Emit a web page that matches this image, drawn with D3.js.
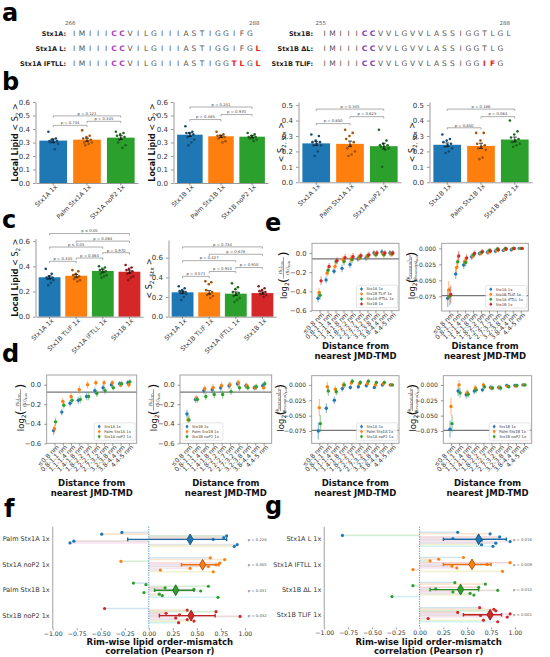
<!DOCTYPE html>
<html>
<head>
<meta charset="utf-8">
<script src="https://cdn.jsdelivr.net/npm/d3@7"></script>
<style>
  body { margin: 0; background: #fff; }
  svg { font-family: "DejaVu Sans", sans-serif; }
</style>
</head>
<body>
<svg id="fig" width="550" height="657"></svg>
<script>
// ---- data ----
const palette = ["#1f77b4", "#ff7f0e", "#2ca02c", "#d62728"];
const tab10 = ["#1f77b4","#ff7f0e","#2ca02c","#d62728","#9467bd","#8c564b","#e377c2","#7f7f7f","#bcbd22","#17becf"];

// a: sequences
const seqLeftNames = ["Stx1A:", "Stx1A L:", "Stx1A IFTLL:"];
const seqLeftSeqs = ["IMIIICCVILGIIIASTIGGIFG", "IMIIICCVILGIIIASTIGGIFGL", "IMIIICCVILGIIIASTIGGTLGL"];
const seqLeftRed = [[], [23], [20, 21, 23]];
const seqRightNames = ["Stx1B:", "Stx1B ΔL:", "Stx1B TLIF:"];
const seqRightSeqs = ["IMIIICCVVLGVVLASSIGGTLGL", "IMIIICCVVLGVVLASSIGGTLG", "IMIIICCVVLGVVLASSIGGIFG"];
const seqRightRed = [[], [], [20, 21]];
const seqLeftNums = ["266", "288"];
const seqRightNums = ["255", "288"];

// b
const bCatsA = ["Stx1A 1x", "Palm Stx1A 1x", "Stx1A noP2 1x"];
const bCatsB = ["Stx1B 1x", "Palm Stx1B 1x", "Stx1B noP2 1x"];
const b1Means = [0.314, 0.321, 0.336];
const b1Err = [0.012, 0.011, 0.014];
const b1Dots = [
  [0.38, 0.33, 0.32, 0.31, 0.31, 0.30, 0.30, 0.29, 0.25, 0.32],
  [0.39, 0.35, 0.34, 0.33, 0.32, 0.31, 0.30, 0.30, 0.29, 0.28],
  [0.38, 0.37, 0.36, 0.35, 0.34, 0.33, 0.30, 0.28, 0.26, 0.32]
];
const b1Brk = [[0, 1, 0.427, "p = 0.734"], [1, 2, 0.457, "p = 0.345"], [0, 2, 0.497, "p = 0.121"]];
const b2Means = [0.358, 0.346, 0.343];
const b2Err = [0.013, 0.008, 0.007];
const b2Dots = [
  [0.42, 0.38, 0.37, 0.37, 0.36, 0.35, 0.34, 0.32, 0.30, 0.28],
  [0.38, 0.36, 0.35, 0.35, 0.34, 0.34, 0.33, 0.31, 0.30],
  [0.37, 0.36, 0.35, 0.34, 0.34, 0.33, 0.33, 0.32, 0.31]
];
const b2Brk = [[0, 1, 0.47, "p = 0.385"], [1, 2, 0.507, "p = 0.970"], [0, 2, 0.563, "p = 0.241"]];
const b3Means = [0.252, 0.249, 0.234];
const b3Err = [0.013, 0.018, 0.019];
const b3Dots = [
  [0.31, 0.30, 0.27, 0.26, 0.26, 0.25, 0.24, 0.24, 0.20, 0.17],
  [0.34, 0.32, 0.30, 0.28, 0.26, 0.24, 0.22, 0.20, 0.18, 0.17],
  [0.34, 0.27, 0.25, 0.24, 0.24, 0.23, 0.23, 0.22, 0.21, 0.10]
];
const b3Brk = [[0, 1, 0.38, "p = 0.850"], [1, 2, 0.425, "p = 0.623"], [0, 2, 0.474, "p = 0.345"]];
const b4Means = [0.243, 0.236, 0.277];
const b4Err = [0.012, 0.017, 0.016];
const b4Dots = [
  [0.31, 0.28, 0.27, 0.26, 0.25, 0.24, 0.23, 0.22, 0.20, 0.19],
  [0.32, 0.32, 0.27, 0.25, 0.24, 0.23, 0.22, 0.21, 0.16, 0.15],
  [0.40, 0.33, 0.31, 0.29, 0.28, 0.27, 0.26, 0.25, 0.24, 0.23]
];
const b4Brk = [[0, 1, 0.353, "p = 0.850"], [1, 2, 0.425, "p = 0.064"], [0, 2, 0.474, "p = 0.186"]];

// c
const cCats = ["Stx1A 1x", "Stx1B TLIF 1x", "Stx1A IFTLL 1x", "Stx1B 1x"];
const c1Means = [0.313, 0.325, 0.363, 0.357];
const c1Err = [0.011, 0.010, 0.009, 0.012];
const c1Dots = [
  [0.38, 0.34, 0.32, 0.31, 0.31, 0.30, 0.30, 0.29, 0.27, 0.25],
  [0.37, 0.36, 0.34, 0.33, 0.32, 0.31, 0.30, 0.29, 0.28],
  [0.40, 0.39, 0.38, 0.37, 0.36, 0.35, 0.34, 0.33, 0.32, 0.31],
  [0.41, 0.39, 0.38, 0.37, 0.36, 0.35, 0.34, 0.32, 0.31, 0.29]
];
const c1Brk = [[0, 1, 0.44, "p = 0.345"], [1, 2, 0.466, "p = 0.064"], [2, 3, 0.508, "p = 0.970"],
               [0, 2, 0.553, "p ≤ 0.05"], [1, 3, 0.60, "p = 0.064"], [0, 3, 0.66, "p ≤ 0.05"]];
const c2Means = [0.248, 0.248, 0.234, 0.240];
const c2Err = [0.013, 0.017, 0.018, 0.011];
const c2Dots = [
  [0.31, 0.29, 0.27, 0.26, 0.25, 0.25, 0.24, 0.23, 0.20, 0.17],
  [0.36, 0.35, 0.33, 0.27, 0.25, 0.23, 0.22, 0.21, 0.19],
  [0.34, 0.30, 0.28, 0.25, 0.24, 0.23, 0.21, 0.19, 0.17, 0.15],
  [0.31, 0.29, 0.27, 0.26, 0.25, 0.24, 0.23, 0.22, 0.20]
];
const c2Brk = [[0, 1, 0.41, "p = 0.571"], [1, 2, 0.46, "p = 0.910"], [2, 3, 0.50, "p = 0.910"],
               [0, 2, 0.57, "p = 0.427"], [1, 3, 0.635, "p = 0.678"], [0, 3, 0.71, "p = 0.734"]];

// d, e: distance bins
const distCats = ["≤0.8 nm", "0.8-1.1 nm", "1.1-1.4 nm", "1.4-1.8 nm", "1.8-2.2 nm",
                  "2.2-2.7 nm", "2.7-3.2 nm", "3.2-3.8 nm", "3.8-4.4 nm", "4.4-5 nm"];
const errS2 = [0.045, 0.035, 0.035, 0.04, 0.04, 0.035, 0.035, 0.03, 0.03, 0.03];
const errTheta = [0.014, 0.008, 0.006, 0.005, 0.004, 0.004, 0.004, 0.003, 0.003, 0.001];

const eNames = ["Stx1A 1x", "Stx1B TLIF 1x", "Stx1A IFTLL 1x", "Stx1B 1x"];
const e1Series = [
  [-0.47, -0.28, -0.19, -0.16, -0.12, -0.06, -0.05, 0.0, 0.01, 0.0],
  [-0.41, -0.21, -0.14, -0.07, -0.06, -0.05, -0.04, -0.01, -0.01, -0.01],
  [-0.44, -0.18, -0.09, -0.09, -0.07, -0.04, -0.03, -0.02, -0.02, -0.01],
  [-0.29, -0.14, -0.08, -0.05, -0.04, -0.03, -0.02, 0.0, 0.0, 0.0]
];
const e2Series = [
  [-0.078, -0.040, -0.026, -0.013, -0.008, -0.006, -0.004, -0.003, -0.002, 0.0],
  [-0.065, -0.030, -0.020, -0.012, -0.008, -0.006, -0.003, -0.002, -0.001, 0.0],
  [-0.075, -0.021, -0.022, -0.010, -0.006, -0.003, -0.001, 0.0, 0.0, 0.0],
  [-0.072, -0.012, -0.015, -0.008, -0.005, -0.004, -0.002, -0.001, 0.0, 0.0]
];
const dNamesA = ["Stx1A 1x", "Palm Stx1A 1x", "Stx1A noP2 1x"];
const dNamesB = ["Stx1B 1x", "Palm Stx1B 1x", "Stx1B noP2 1x"];
const d1Series = [
  [-0.47, -0.28, -0.19, -0.16, -0.12, -0.06, -0.03, 0.0, 0.01, 0.02],
  [-0.45, -0.17, -0.12, -0.05, 0.0, 0.02, 0.02, 0.02, 0.0, 0.0],
  [-0.38, -0.21, -0.16, -0.15, -0.12, -0.09, -0.06, -0.03, 0.01, 0.03]
];
const d2Series = [
  [-0.30, -0.15, -0.06, -0.05, -0.03, -0.01, 0.01, -0.01, -0.03, -0.01],
  [-0.36, -0.14, -0.04, -0.03, -0.01, 0.0, 0.02, -0.01, -0.03, -0.03],
  [-0.36, -0.15, -0.12, -0.10, -0.10, -0.07, -0.03, -0.03, -0.02, 0.01]
];
const d3Series = [
  [-0.075, -0.038, -0.025, -0.006, -0.004, -0.003, -0.001, -0.004, 0.0, 0.0],
  [-0.037, -0.003, -0.007, 0.0, 0.003, 0.002, 0.002, 0.0, 0.002, 0.0],
  [-0.063, -0.010, -0.011, 0.0, 0.006, 0.004, 0.006, 0.004, 0.004, 0.0]
];
const d4Series = [
  [-0.072, -0.010, -0.016, -0.010, -0.008, -0.004, -0.004, -0.001, -0.001, 0.0],
  [-0.035, 0.0, -0.013, -0.005, 0.0, -0.005, -0.004, -0.002, -0.002, 0.0],
  [-0.063, -0.013, -0.015, -0.008, -0.003, -0.005, -0.005, -0.003, -0.001, 0.0]
];
const s2Ticks = [-0.6, -0.4, -0.2, 0.0];
const thetaTicks = [-0.075, -0.05, -0.025, 0.0];

// f, g: rim-wise correlations
const fCats = ["Palm Stx1A 1x", "Stx1A noP2 1x", "Palm Stx1B 1x", "Stx1B noP2 1x"];
const fVals = [
  [-0.28, -0.49, 0.81, 0.78, 0.67, -0.78, -0.82, 0.92, 0.89],
  [0.64, 0.79, -0.29, 0.74, 0.70, 0.62, 0.43, 0.12, 0.67],
  [-0.16, -0.03, 0.62, 0.17, 0.47, 0.54, -0.05, 0.11, 0.14, 0.72],
  [-0.46, 0.40, 0.70, 0.18, 0.32, 0.95, 0.28, 0.40, 0.47, 0.31]
];
const fMeans = [0.43, 0.56, 0.28, 0.44];
const fLo = [-0.22, 0.34, 0.06, 0.11];
const fHi = [0.81, 0.73, 0.47, 0.69];
const fP = ["p = 0.228", "p = 0.005", "p = 0.031", "p = 0.032"];
const gCats = ["Stx1A L 1x", "Stx1A IFTLL 1x", "Stx1B ΔL 1x", "Stx1B TLIF 1x"];
const gVals = [
  [0.40, 0.74, -0.81, 0.84, 0.35, 0.65, 0.95, 0.80, 0.65, 0.77],
  [0.46, 0.20, 0.11, 0.95, 0.71, 0.34, 0.39, -0.07, 0.87],
  [0.37, 0.69, -0.07, 0.62, 0.17, 0.82, 0.35, 0.53, 0.57, -0.29],
  [0.63, 0.78, 0.80, 0.40, 0.95, 0.64, 0.92, 0.09, 0.67, 0.82]
];
const gMeans = [0.62, 0.55, 0.43, 0.74];
const gLo = [0.25, 0.25, 0.11, 0.46];
const gHi = [0.91, 0.75, 0.62, 0.86];
const gP = ["p = 0.016", "p = 0.009", "p = 0.010", "p < 0.001"];
const corrTicks = [-1, -0.75, -0.5, -0.25, 0, 0.25, 0.5, 0.75, 1];

// ---- drawing ----
const svg = d3.select("#fig");
const spine = "#999";

function letter(t, x, y) {
  svg.append("text").attr("x", x).attr("y", y).attr("font-size", 24)
    .attr("font-weight", "bold").attr("fill", "#000").text(t);
}

function styleAxis(ax, fs) {
  ax.select(".domain").attr("stroke", spine).attr("stroke-width", 1);
  ax.selectAll(".tick line").attr("stroke", "#555").attr("stroke-width", 0.6);
  ax.selectAll(".tick text").attr("font-size", fs).attr("fill", "#333")
    .attr("font-family", "DejaVu Sans, sans-serif");
}

// a
function seqBlock(names, seqs, reds, nums, labelX, x0, purple) {
  const xs = d3.scaleLinear().domain([0, 23]).range([x0, x0 + 23 * 8]);
  const rowY = [36, 51, 66];
  svg.append("text").attr("x", xs(0) - 9).attr("y", 25).attr("font-size", 5.5).attr("fill", "#555").text(nums[0]);
  svg.append("text").attr("x", xs(22) - 1).attr("y", 25).attr("font-size", 5.5).attr("fill", "#555").text(nums[1]);
  names.forEach((nm, r) => {
    svg.append("text").attr("x", labelX).attr("y", rowY[r]).attr("text-anchor", "end")
      .attr("font-size", 6.5).attr("font-weight", "bold").attr("fill", "#222").text(nm);
    seqs[r].split("").forEach((ch, i) => {
      const isRed = reds[r].includes(i);
      const isC = (i === 5 || i === 6);
      svg.append("text").attr("x", xs(i)).attr("y", rowY[r]).attr("text-anchor", "middle")
        .attr("font-size", 7.5)
        .attr("font-weight", isRed || isC ? "bold" : "normal")
        .attr("fill", isRed ? "#e8201e" : isC ? purple : "#555").text(ch);
    });
  });
}
letter("a", 2, 21);
seqBlock(seqLeftNames, seqLeftSeqs, seqLeftRed, seqLeftNums, 66, 74, "#b03cbc");
seqBlock(seqRightNames, seqRightSeqs, seqRightRed, seqRightNums, 313, 324.5, "#7a3cb8");

// bar panels
function ylabelS2(g, cx, cy, bold, sub) {
  const t = g.append("text").attr("transform", `translate(${cx},${cy}) rotate(-90)`)
    .attr("text-anchor", "middle").attr("font-size", 8).attr("fill", "#111");
  if (bold) t.append("tspan").attr("font-weight", "bold").text("Local Lipid  ");
  t.append("tspan").text("< S");
  t.append("tspan").attr("font-size", 5.8).attr("dy", 2).text(sub);
  t.append("tspan").attr("dy", -2).text(" >");
}

function barPanel(p) {
  const g = svg.append("g");
  const x = d3.scaleBand().domain(p.cats).range(p.xr).paddingInner(0.18).paddingOuter(0.1);
  const y = d3.scaleLinear().domain(p.dom).range(p.yr);
  const bw = x.bandwidth();
  const cx = i => x(p.cats[i]) + bw / 2;

  g.selectAll("rect.bar").data(p.means).join("rect")
    .attr("x", (d, i) => x(p.cats[i])).attr("width", bw)
    .attr("y", d => y(d)).attr("height", d => y(0) - y(d))
    .attr("fill", (d, i) => palette[i]);

  p.dots.forEach((arr, i) => {
    g.selectAll(null).data(arr).join("circle")
      .attr("cx", (d, k) => cx(i) + (((k * 7) % 10) / 9 - 0.5) * bw * 0.35)
      .attr("cy", d => y(d)).attr("r", 1.3)
      .attr("fill", d3.color(palette[i]).darker(1.3));
  });

  p.means.forEach((m, i) => {
    const lo = y(m - p.err[i]), hi = y(m + p.err[i]);
    g.append("path").attr("d", `M${cx(i)},${lo}V${hi}M${cx(i) - 2},${lo}H${cx(i) + 2}M${cx(i) - 2},${hi}H${cx(i) + 2}`)
      .attr("stroke", "#111").attr("stroke-width", 0.8).attr("fill", "none");
  });

  p.brk.forEach(([i, j, v, t]) => {
    const xa = cx(i), xb = cx(j), yy = y(v);
    g.append("path").attr("d", `M${xa},${yy + 1.8}V${yy}H${xb}V${yy + 1.8}`)
      .attr("fill", "none").attr("stroke", "#777").attr("stroke-width", 0.6);
    g.append("text").attr("x", (xa + xb) / 2).attr("y", yy - 1.2).attr("text-anchor", "middle")
      .attr("font-size", 3.8).attr("fill", "#444").text(t);
  });

  const ya = g.append("g").attr("transform", `translate(${p.xr[0] - 0.5},0)`)
    .call(d3.axisLeft(y).tickValues(p.ticks).tickFormat(d3.format(".1f")).tickSize(2.5).tickSizeOuter(0));
  styleAxis(ya, 7);
  const xa = g.append("g").attr("transform", `translate(0,${p.yr[0]})`)
    .call(d3.axisBottom(x).tickSize(2.5).tickSizeOuter(0));
  styleAxis(xa, 6.3);
  xa.selectAll(".tick text").attr("text-anchor", "end").attr("x", 0).attr("y", 3)
    .attr("dy", "0.5em").attr("transform", "rotate(-45)");

  ylabelS2(g, p.labX, (p.yr[0] + p.yr[1]) / 2, p.bold, p.sub);
}

letter("b", 2, 90);
barPanel({ cats: bCatsA, xr: [36, 138], dom: [0, 0.6], yr: [183, 102], ticks: d3.range(0, 0.61, 0.1),
  means: b1Means, err: b1Err, dots: b1Dots, brk: b1Brk, labX: 18, bold: true, sub: "2" });
barPanel({ cats: bCatsB, xr: [174, 268], dom: [0, 0.6], yr: [183, 102], ticks: d3.range(0, 0.61, 0.1),
  means: b2Means, err: b2Err, dots: b2Dots, brk: b2Brk, labX: 155, bold: true, sub: "2" });
barPanel({ cats: bCatsA, xr: [299, 401], dom: [0, 0.52], yr: [182.3, 102], ticks: d3.range(0, 0.51, 0.1),
  means: b3Means, err: b3Err, dots: b3Dots, brk: b3Brk, labX: 284, bold: false, sub: "2, Stx" });
barPanel({ cats: bCatsB, xr: [430, 532], dom: [0, 0.52], yr: [182.3, 102], ticks: d3.range(0, 0.51, 0.1),
  means: b4Means, err: b4Err, dots: b4Dots, brk: b4Brk, labX: 415, bold: false, sub: "2, Stx" });

letter("c", 2, 228);
barPanel({ cats: cCats, xr: [36, 143], dom: [0, 0.62], yr: [316.7, 238.6], ticks: [0, 0.2, 0.4, 0.6],
  means: c1Means, err: c1Err, dots: c1Dots, brk: c1Brk, labX: 18, bold: true, sub: "2" });
barPanel({ cats: cCats, xr: [169, 276], dom: [0, 0.78], yr: [316.7, 240], ticks: [0, 0.2, 0.4, 0.6],
  means: c2Means, err: c2Err, dots: c2Dots, brk: c2Brk, labX: 152, bold: false, sub: "2, Stx" });

// distance panels
function logLabel(g, cx, cy, sym, symSub) {
  const t = g.append("g").attr("transform", `translate(${cx},${cy}) rotate(-90)`);
  const lg = t.append("text").attr("x", -22).attr("y", 3).attr("font-size", 8.5).attr("fill", "#111");
  lg.append("tspan").text("log");
  lg.append("tspan").attr("font-size", 6).attr("dy", 2).text("2");
  t.append("text").attr("x", -6).attr("y", 4).attr("font-size", 13).attr("fill", "#111").text("(");
  t.append("line").attr("x1", -1.5).attr("x2", 20).attr("y1", -0.5).attr("y2", -0.5)
    .attr("stroke", "#111").attr("stroke-width", 0.4);
  [["rim", -2], ["bulk", 4.5]].forEach(([w, yy]) => {
    const s = t.append("text").attr("x", 9.2).attr("y", yy).attr("text-anchor", "middle")
      .attr("font-size", 4.2).attr("fill", "#111");
    s.append("tspan").text("⟨" + sym);
    if (symSub) s.append("tspan").attr("font-size", 3).attr("dy", 0.8).text(symSub);
    s.append("tspan").attr("dy", symSub ? -0.8 : 0).text("⟩");
    s.append("tspan").attr("font-size", 3).attr("dy", 1).text(w);
  });
  t.append("text").attr("x", 20.5).attr("y", 4).attr("font-size", 13).attr("fill", "#111").text(")");
}

function distPanel(p) {
  const g = svg.append("g");
  const x = d3.scalePoint().domain(distCats).range(p.xr).padding(0.95);
  const y = d3.scaleLinear().domain(p.dom).range(p.yr);
  const n = p.series.length;

  g.append("line").attr("x1", p.xr[0]).attr("x2", p.xr[1]).attr("y1", y(p.hline)).attr("y2", y(p.hline))
    .attr("stroke", "#777").attr("stroke-width", 1.2);

  p.series.forEach((s, j) => {
    const off = (j - (n - 1) / 2) * 1.0;
    g.selectAll(null).data(s).join("line")
      .attr("x1", (d, i) => x(distCats[i]) + off).attr("x2", (d, i) => x(distCats[i]) + off)
      .attr("y1", (d, i) => y(d - p.err[i])).attr("y2", (d, i) => y(d + p.err[i]))
      .attr("stroke", palette[j]).attr("stroke-opacity", 0.45).attr("stroke-width", 1.3);
    g.selectAll(null).data(s).join("circle")
      .attr("cx", (d, i) => x(distCats[i]) + off).attr("cy", d => y(d)).attr("r", 1.7)
      .attr("fill", palette[j]);
  });

  g.append("rect").attr("x", p.xr[0]).attr("y", p.yr[1]).attr("width", p.xr[1] - p.xr[0])
    .attr("height", p.yr[0] - p.yr[1]).attr("fill", "none").attr("stroke", spine).attr("stroke-width", 0.9);

  const ya = g.append("g").attr("transform", `translate(${p.xr[0]},0)`)
    .call(d3.axisLeft(y).tickValues(p.ticks).tickFormat(d3.format(p.fmt)).tickSize(2.5).tickSizeOuter(0));
  styleAxis(ya, p.theta ? 6 : 6.8);
  ya.select(".domain").remove();
  const xa = g.append("g").attr("transform", `translate(0,${p.yr[0]})`)
    .call(d3.axisBottom(x).tickSize(2.5).tickSizeOuter(0));
  styleAxis(xa, 6.3);
  xa.select(".domain").remove();
  xa.selectAll(".tick text").attr("text-anchor", "end").attr("x", 0).attr("y", 3)
    .attr("dy", "0.5em").attr("transform", "rotate(-45)");

  // legend
  const lw = 41, lh = n * 5 + 2.5;
  const lx = p.leg === "ll" ? p.xr[0] + 2 : p.xr[1] - lw - 1.5;
  const ly = p.yr[0] - lh - 3;
  const lg = g.append("g").attr("transform", `translate(${lx},${ly})`);
  lg.append("rect").attr("width", lw).attr("height", lh).attr("rx", 1.2).attr("fill", "#fff")
    .attr("fill-opacity", 0.85).attr("stroke", "#ccc").attr("stroke-width", 0.5);
  p.names.forEach((nm, j) => {
    const yy = 3.8 + j * 5;
    lg.append("line").attr("x1", 5).attr("x2", 5).attr("y1", yy - 2).attr("y2", yy + 2)
      .attr("stroke", palette[j]).attr("stroke-opacity", 0.5).attr("stroke-width", 1);
    lg.append("circle").attr("cx", 5).attr("cy", yy).attr("r", 1.3).attr("fill", palette[j]);
    lg.append("text").attr("x", 10).attr("y", yy + 1.3).attr("font-size", 3.7).attr("fill", "#333").text(nm);
  });

  if (p.theta) logLabel(g, p.labX, (p.yr[0] + p.yr[1]) / 2, "θ", "mismatch");
  else logLabel(g, p.labX, (p.yr[0] + p.yr[1]) / 2, "S", "2");

  const tx = (p.xr[0] + p.xr[1]) / 2;
  ["Distance from", "nearest JMD-TMD"].forEach((t, k) => {
    g.append("text").attr("x", tx).attr("y", p.titleY + k * 9.5).attr("text-anchor", "middle")
      .attr("font-size", 8.5).attr("font-weight", "bold").attr("fill", "#111").text(t);
  });
}

letter("e", 265, 231);
distPanel({ xr: [312, 399], yr: [310.7, 243.3], dom: [-0.6, 0.1], ticks: s2Ticks, fmt: ".1f", hline: -0.0625,
  series: e1Series, err: errS2, names: eNames, leg: "lr", labX: 284, theta: false, titleY: 349 });
distPanel({ xr: [441.7, 528.3], yr: [311, 243.3], dom: [-0.098, 0.008], ticks: thetaTicks, fmt: ".3f", hline: -0.074,
  series: e2Series, err: errTheta, names: eNames, leg: "lr", labX: 412, theta: true, titleY: 349 });

letter("d", 2, 362);
distPanel({ xr: [46.7, 136.7], yr: [443.3, 375], dom: [-0.6, 0.1], ticks: s2Ticks, fmt: ".1f", hline: -0.075,
  series: d1Series, err: errS2, names: dNamesA, leg: "lr", labX: 21, theta: false, titleY: 486 });
distPanel({ xr: [180, 271.7], yr: [443.3, 375], dom: [-0.6, 0.1], ticks: s2Ticks, fmt: ".1f", hline: -0.075,
  series: d2Series, err: errS2, names: dNamesB, leg: "ll", labX: 154, theta: false, titleY: 486 });
distPanel({ xr: [311.7, 399], yr: [443.3, 375.7], dom: [-0.095, 0.015], ticks: thetaTicks, fmt: ".3f", hline: -0.074,
  series: d3Series, err: errTheta, names: dNamesA, leg: "lr", labX: 281, theta: true, titleY: 486 });
distPanel({ xr: [443.3, 531.7], yr: [443.3, 375.7], dom: [-0.095, 0.015], ticks: thetaTicks, fmt: ".3f", hline: -0.074,
  series: d4Series, err: errTheta, names: dNamesB, leg: "lr", labX: 413, theta: true, titleY: 486 });

// correlation panels
function corrPanel(p) {
  const g = svg.append("g");
  const x = d3.scaleLinear().domain(p.dom).range(p.xr);
  const y = d3.scaleBand().domain(p.cats).range(p.yr);
  const bw = y.bandwidth();
  const rowY = (i, k, n) => y(p.cats[i]) + bw / 2 + (k - (n - 1) / 2) * (bw * 0.62 / n);

  p.vals.forEach((arr, i) => {
    arr.forEach((r, k) => {
      const yy = rowY(i, k, arr.length);
      g.append("line").attr("x1", x(0)).attr("x2", x(r)).attr("y1", yy).attr("y2", yy)
        .attr("stroke", tab10[k % 10]).attr("stroke-opacity", 0.2).attr("stroke-width", 1.6);
    });
  });
  g.append("line").attr("x1", x(0)).attr("x2", x(0)).attr("y1", p.yr[0]).attr("y2", p.yr[1])
    .attr("stroke", "#1f77b4").attr("stroke-width", 0.8).attr("stroke-dasharray", "1.2,1.2");

  p.vals.forEach((arr, i) => {
    g.selectAll(null).data(arr).join("circle")
      .attr("cx", d => x(d)).attr("cy", (d, k) => rowY(i, k, arr.length)).attr("r", 1.6)
      .attr("fill", palette[i]);
    const cy = y(p.cats[i]) + bw / 2;
    const lo = x(p.lo[i]), hi = x(p.hi[i]);
    g.append("path").attr("d", `M${lo},${cy}H${hi}M${lo},${cy - 1.8}V${cy + 1.8}M${hi},${cy - 1.8}V${cy + 1.8}`)
      .attr("stroke", d3.color(palette[i]).darker(0.3)).attr("stroke-width", 1.4).attr("fill", "none");
    g.append("path").attr("d", d3.symbol(d3.symbolDiamond, 34)())
      .attr("transform", `translate(${x(p.means[i])},${cy})`)
      .attr("fill", palette[i]).attr("stroke", d3.color(palette[i]).darker(1.5)).attr("stroke-width", 0.8);
    g.append("text").attr("x", x(p.pX)).attr("y", cy + 1.3).attr("font-size", 3.8).attr("fill", "#555").text(p.pv[i]);
  });

  g.append("line").attr("x1", p.xr[0]).attr("x2", p.xr[0]).attr("y1", p.yr[0]).attr("y2", p.yr[1])
    .attr("stroke", "#bbb").attr("stroke-width", 1.4);

  const ya = g.append("g").attr("transform", `translate(${p.xr[0]},0)`)
    .call(d3.axisLeft(y).tickSize(0).tickPadding(3));
  styleAxis(ya, 6.5);
  ya.select(".domain").remove();
  const xa = g.append("g").attr("transform", `translate(0,${p.yr[1]})`)
    .call(d3.axisBottom(x).tickValues(corrTicks).tickFormat(d3.format(".2f")).tickSize(2).tickPadding(1.5));
  styleAxis(xa, 6.2);
  xa.select(".domain").remove();

  const tx = (p.xr[0] + p.xr[1]) / 2;
  ["Rim-wise lipid order-mismatch", "correlation (Pearson r)"].forEach((t, k) => {
    g.append("text").attr("x", tx).attr("y", 645 + k * 9).attr("text-anchor", "middle")
      .attr("font-size", 8.5).attr("font-weight", "bold").attr("fill", "#111").text(t);
  });
}

letter("f", 4, 517);
corrPanel({ dom: [-1, 1.23], xr: [52.7, 267], yr: [526.7, 628.3], cats: fCats, vals: fVals,
  means: fMeans, lo: fLo, hi: fHi, pv: fP, pX: 1.03 });
letter("g", 265, 514);
corrPanel({ dom: [-1, 1.19], xr: [324.3, 533], yr: [526.7, 627.3], cats: gCats, vals: gVals,
  means: gMeans, lo: gLo, hi: gHi, pv: gP, pX: 0.98 });
</script>
</body>
</html>
